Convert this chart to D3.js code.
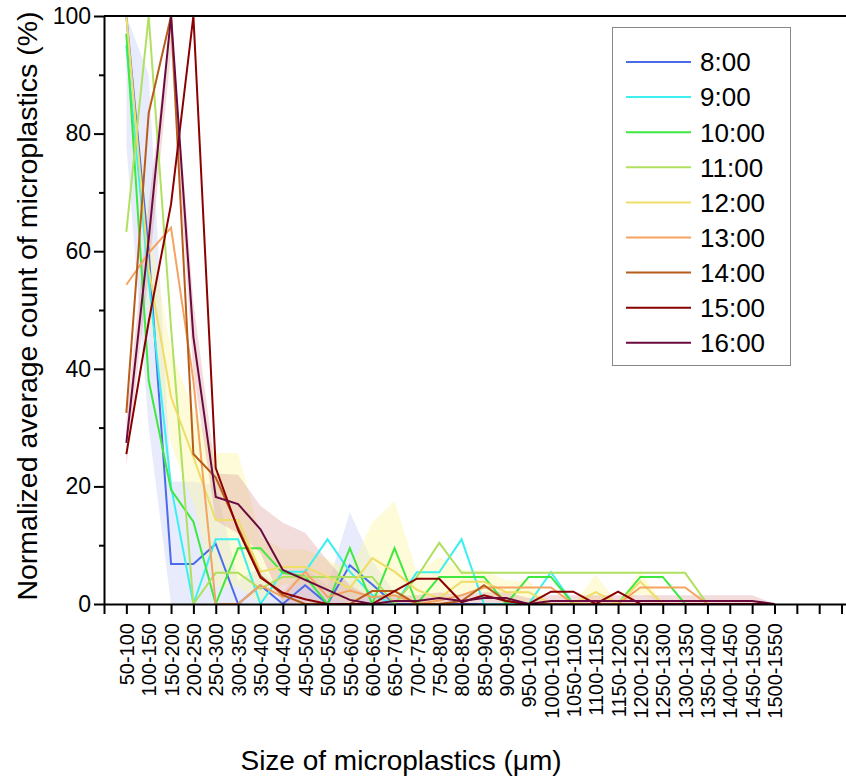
<!DOCTYPE html>
<html>
<head>
<meta charset="utf-8">
<script src="https://cdn.jsdelivr.net/npm/d3@7"></script>
<style>
  body { margin: 0; background: #fff; }
  svg { display: block; font-family: Arial, "Liberation Sans", sans-serif; }
</style>
</head>
<body>
<div id="chart"></div>
<script>
// size classes (µm)
const sizes = ["50-100", "100-150", "150-200", "200-250", "250-300", "300-350", "350-400",
  "400-450", "450-500", "500-550", "550-600", "600-650", "650-700", "700-750", "750-800",
  "800-850", "850-900", "900-950", "950-1000", "1000-1050", "1050-1100", "1100-1150",
  "1150-1200", "1200-1250", "1250-1300", "1300-1350", "1350-1400", "1400-1450",
  "1450-1500", "1500-1550"];

const times = ["8:00", "9:00", "10:00", "11:00", "12:00", "13:00", "14:00", "15:00", "16:00"];
const colors = ["#4b6be8", "#3cf0f0", "#3ee83e", "#b0e060", "#eedd66", "#f4a460", "#b85c1a", "#8b0000", "#6b0a3e"];

// normalized average count (%) per size class
const t8  = [100, 60, 6.8, 6.8, 10.2, 0, 3.2, 0, 3.2, 0, 6.6, 3.3, 0, 0, 0, 0, 0, 0, 0, 0, 0, 0, 0, 0, 0, 0, 0, 0, 0, 0];
const t9  = [95, 55, 20, 0, 11, 11, 0, 5.5, 5.5, 11, 5.5, 1.5, 0, 5.4, 5.4, 11, 0, 0, 0, 5.4, 0, 0, 0, 0, 0, 0, 0, 0, 0, 0];
const t10 = [97, 38, 19.4, 14, 0, 9.5, 9.5, 5.3, 4.7, 0, 9.5, 0, 9.5, 0, 4.6, 4.6, 4.6, 0, 4.6, 4.6, 0, 0, 0, 4.6, 4.6, 0, 0, 0, 0, 0];
const t11 = [63.3, 100, 47, 0, 5.3, 5.3, 2.6, 4.6, 4.6, 4.6, 4.6, 4.6, 0, 4.6, 10.4, 5.3, 5.3, 5.3, 5.3, 5.3, 5.3, 5.3, 5.3, 5.3, 5.3, 5.3, 0, 0, 0, 0];
const t12 = [100, 57, 35.2, 25, 14.3, 14.3, 5.5, 6.3, 6.3, 4.6, 2.7, 7.8, 5.5, 2.4, 1, 3.8, 3.8, 2, 2, 0, 0, 2, 0, 3.8, 0, 0, 0, 0, 0, 0];
const t13 = [54.3, 59.7, 64, 38, 0, 0, 3.2, 1.2, 5.5, 1.2, 2.3, 1.2, 1.5, 0, 0.6, 1.5, 2.8, 2.8, 2.8, 2.8, 0, 0, 0, 2.8, 2.8, 2.8, 0, 0, 0, 0];
const t14 = [32.5, 83.5, 100, 25.5, 21.5, 13, 4.8, 1.5, 0, 0, 0, 2.2, 2.2, 0, 0, 0.5, 3.2, 0.5, 0, 0, 0, 0, 0, 0, 0, 0, 0, 0, 0, 0];
const t15 = [25.5, 48, 68, 100, 23.1, 12.6, 4.5, 1.9, 0.8, 0, 0, 0, 2.2, 4.3, 4.3, 0.3, 1.5, 0.5, 0, 2.1, 2.1, 0, 2.1, 0, 0, 0, 0, 0, 0, 0];
const t16 = [27.4, 62, 100, 45.4, 18.2, 17, 12.7, 5.8, 4.1, 2.4, 0.7, 0, 0.5, 0.5, 1, 0.5, 1, 1, 0, 0.5, 0.5, 0.5, 0.5, 0.5, 0.5, 0.5, 0.5, 0.5, 0.5, 0];

// standard deviations shown as shaded bands
const sd8  = [22, 30, 14, 14, 10, 4, 3, 2, 3, 3, 9, 4, 2, 0, 0, 0, 0, 0, 0, 0, 0, 0, 0, 0, 0, 0, 0, 0, 0, 0];
const sd12 = [0, 8, 8, 8, 11.4, 11.4, 6, 3, 3, 3, 3, 6, 12, 3, 7, 2, 2, 2, 2, 0, 0, 3, 0, 2, 0, 0, 0, 0, 0, 0];
const sd16 = [4, 6, 6, 6, 4, 5, 4, 8, 8, 5, 2.5, 1, 1, 1, 1, 1, 1, 1, 1, 1, 1, 1, 1, 1, 1, 1, 1, 1, 1, 0];

const series = [t8, t9, t10, t11, t12, t13, t14, t15, t16];
const bands = [
  { mean: t8, sd: sd8, fill: "#9fb0f0", op: 0.25 },
  { mean: t12, sd: sd12, fill: "#fbf6a8", op: 0.45 },
  { mean: t16, sd: sd16, fill: "#d88c8c", op: 0.3 }
];

const width = 846, height = 781;
const mLeft = 104, mRight = 846, mTop = 16, mBottom = 604;

const svg = d3.select("#chart").append("svg")
  .attr("width", width).attr("height", height);

const x = d3.scaleLinear().domain([0, 33.2]).range([mLeft, mRight]);
const y = d3.scaleLinear().domain([0, 100]).range([mBottom, mTop]);

svg.append("clipPath").attr("id", "plot")
  .append("rect").attr("x", mLeft).attr("y", mTop).attr("width", mRight - mLeft).attr("height", mBottom - mTop);

const plot = svg.append("g").attr("clip-path", "url(#plot)");

// shaded bands
const area = d3.area()
  .x((d, i) => x(i + 1))
  .y0(d => y(Math.max(0, d[0] - d[1])))
  .y1(d => y(Math.min(100, d[0] + d[1])));

bands.forEach(b => {
  plot.append("path")
    .datum(b.mean.map((v, i) => [v, b.sd[i]]))
    .attr("d", area)
    .attr("fill", b.fill)
    .attr("fill-opacity", b.op);
});

// lines
const line = d3.line().x((d, i) => x(i + 1)).y(d => y(d));
series.forEach((s, k) => {
  plot.append("path")
    .datum(s)
    .attr("d", line)
    .attr("fill", "none")
    .attr("stroke", colors[k])
    .attr("stroke-width", 2)
    .attr("stroke-linejoin", "miter");
});

// axes
const xAxis = svg.append("g")
  .attr("transform", `translate(0,${mBottom})`)
  .call(d3.axisBottom(x)
    .tickValues(d3.range(0, 34))
    .tickSize(10).tickSizeOuter(0)
    .tickFormat(i => sizes[i - 1] || ""));
xAxis.selectAll("text")
  .attr("transform", "rotate(-90)")
  .attr("x", -19).attr("y", 0)
  .attr("dy", "0.36em")
  .attr("text-anchor", "end")
  .attr("font-size", 20)
  .attr("fill", "#000");

const yAxis = svg.append("g")
  .attr("transform", `translate(${mLeft},0)`)
  .call(d3.axisLeft(y).tickValues([0, 20, 40, 60, 80, 100]).tickSize(10).tickSizeOuter(0).tickPadding(3));
yAxis.selectAll("text").attr("font-size", 23).attr("fill", "#000");

svg.append("g")
  .attr("transform", `translate(${mLeft},0)`)
  .call(d3.axisLeft(y).tickValues([10, 30, 50, 70, 90]).tickSize(5).tickSizeOuter(0).tickFormat(""))
  .select(".domain").remove();

svg.selectAll(".domain, .tick line").attr("stroke", "#000").attr("stroke-width", 2);

// top border
svg.append("line")
  .attr("x1", mLeft).attr("x2", mRight)
  .attr("y1", mTop).attr("y2", mTop)
  .attr("stroke", "#000").attr("stroke-width", 2);

// axis titles
svg.append("text")
  .attr("x", 401).attr("y", 770)
  .attr("text-anchor", "middle")
  .attr("font-size", 28)
  .text("Size of microplastics (μm)");

svg.append("text")
  .attr("transform", "rotate(-90)")
  .attr("x", -306).attr("y", 37)
  .attr("text-anchor", "middle")
  .attr("font-size", 28.5)
  .text("Normalized average count of microplastics (%)");

// legend
const legend = svg.append("g");
legend.append("rect")
  .attr("x", 612.5).attr("y", 27.5)
  .attr("width", 178).attr("height", 338)
  .attr("fill", "#fff").attr("stroke", "#888").attr("stroke-width", 1);

times.forEach((t, k) => {
  const ly = 62 + k * 35.1;
  legend.append("line")
    .attr("x1", 626).attr("x2", 691)
    .attr("y1", ly).attr("y2", ly)
    .attr("stroke", colors[k]).attr("stroke-width", 2);
  legend.append("text")
    .attr("x", 700).attr("y", ly)
    .attr("dy", "0.36em")
    .attr("font-size", 26)
    .text(t);
});
</script>
</body>
</html>
